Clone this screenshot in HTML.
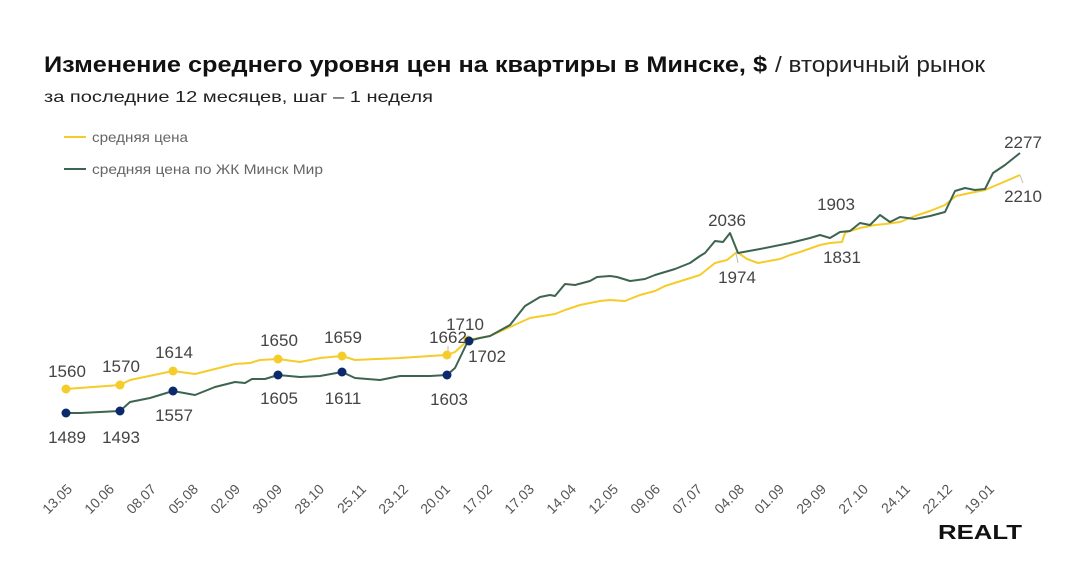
<!DOCTYPE html>
<html><head><meta charset="utf-8"><style>
body{margin:0;background:#fff;width:1080px;height:578px;overflow:hidden}
svg{font-family:"Liberation Sans","DejaVu Sans",sans-serif}
</style></head><body>
<svg width="1080" height="578" viewBox="0 0 1080 578">
<text x="44" y="72" font-size="22" font-weight="bold" fill="#111" textLength="723" lengthAdjust="spacingAndGlyphs">Изменение среднего уровня цен на квартиры в Минске, $</text>
<text x="775" y="72" font-size="22" fill="#222" textLength="210" lengthAdjust="spacingAndGlyphs">/ вторичный рынок</text>
<text x="44" y="102" font-size="16" fill="#222" textLength="389" lengthAdjust="spacingAndGlyphs">за последние 12 месяцев, шаг – 1 неделя</text>
<line x1="64" y1="137" x2="86" y2="137" stroke="#f5cc2a" stroke-width="2"/>
<text x="92" y="142" font-size="14" fill="#666" textLength="96" lengthAdjust="spacingAndGlyphs">средняя цена</text>
<line x1="64" y1="169" x2="86" y2="169" stroke="#3d6450" stroke-width="2"/>
<text x="92" y="174" font-size="14" fill="#666" textLength="231" lengthAdjust="spacingAndGlyphs">средняя цена по ЖК Минск Мир</text>
<g fill="none" stroke-width="2" stroke-linejoin="round">
<polyline stroke="#f5cc2a" points="66,389 120,385 130,380 173,371 195,374 215,369 235,364 250,363 260,360 278,359 300,362 320,358 342,356 355,360 400,358 430,356 447,355 455,352 468,340 490,336 510,327 530,318 555,314 565,310 580,305 600,301 610,300 625,301 640,295 655,291 665,286 700,275 715,263 727,260 737,252 747,259 758,263 780,259 790,255 800,252 820,245 830,243 842,242 845,233 850,231 860,228 875,225 885,224 900,222 915,216 930,211 945,205 956,196 970,193 985,190 1020,175"/>
<polyline stroke="#3d6450" points="66,413 80,413 120,411 130,402 150,398 173,391 195,395 215,387 235,382 245,383 252,379 265,379 278,375 300,377 320,376 342,372 355,378 380,380 400,376 430,376 447,375 455,368 468,341 480,338 490,336 510,325 525,306 540,297 550,295 555,296 565,284 575,285 590,281 597,277 610,276 617,277 630,281 645,279 655,275 665,272 675,269 690,263 700,256 705,253 715,241 723,242 730,233 738,253 760,249 790,243 810,238 820,235 830,238 840,232 850,231 860,223 870,225 880,215 890,222 900,217 915,219 930,216 945,212 955,191 965,188 975,190 985,189 993,173 1005,165 1020,153"/>
<line x1="736" y1="253" x2="738" y2="263" stroke="#bbb" stroke-width="1"/>
<line x1="1020" y1="175" x2="1023" y2="183" stroke="#bbb" stroke-width="1"/>
<line x1="448" y1="346" x2="448" y2="354" stroke="#bbb" stroke-width="1"/>
</g>
<g fill="#f5cc2a"><circle cx="66" cy="389" r="4.5"/><circle cx="120" cy="385" r="4.5"/><circle cx="173" cy="371" r="4.5"/><circle cx="278" cy="359" r="4.5"/><circle cx="342" cy="356" r="4.5"/><circle cx="447" cy="355" r="4.5"/><circle cx="468" cy="340" r="4.5"/></g>
<g fill="#0c2a6b"><circle cx="66" cy="413" r="4.5"/><circle cx="120" cy="411" r="4.5"/><circle cx="173" cy="391" r="4.5"/><circle cx="278" cy="375" r="4.5"/><circle cx="342" cy="372" r="4.5"/><circle cx="447" cy="375" r="4.5"/><circle cx="469" cy="341" r="4.5"/></g>
<g font-size="17" fill="#444" text-anchor="middle">
<text x="67" y="377">1560</text><text x="121" y="372">1570</text><text x="174" y="358">1614</text><text x="279" y="346">1650</text><text x="343" y="343">1659</text><text x="448" y="343">1662</text><text x="465" y="330">1710</text>
<text x="67" y="443">1489</text><text x="121" y="443">1493</text><text x="174" y="421">1557</text><text x="279" y="404">1605</text><text x="343" y="404">1611</text><text x="449" y="405">1603</text><text x="487" y="362">1702</text>
<text x="727" y="226">2036</text><text x="737" y="283">1974</text><text x="836" y="210">1903</text><text x="842" y="263">1831</text><text x="1023" y="148">2277</text><text x="1023" y="202">2210</text>
</g>
<g font-size="14" fill="#555" text-anchor="end">
<text transform="translate(73,490) rotate(-45)">13.05</text>
<text transform="translate(115,490) rotate(-45)">10.06</text>
<text transform="translate(157,490) rotate(-45)">08.07</text>
<text transform="translate(199,490) rotate(-45)">05.08</text>
<text transform="translate(241,490) rotate(-45)">02.09</text>
<text transform="translate(283,490) rotate(-45)">30.09</text>
<text transform="translate(325,490) rotate(-45)">28.10</text>
<text transform="translate(367,490) rotate(-45)">25.11</text>
<text transform="translate(409,490) rotate(-45)">23.12</text>
<text transform="translate(451,490) rotate(-45)">20.01</text>
<text transform="translate(493,490) rotate(-45)">17.02</text>
<text transform="translate(535,490) rotate(-45)">17.03</text>
<text transform="translate(577,490) rotate(-45)">14.04</text>
<text transform="translate(619,490) rotate(-45)">12.05</text>
<text transform="translate(661,490) rotate(-45)">09.06</text>
<text transform="translate(703,490) rotate(-45)">07.07</text>
<text transform="translate(745,490) rotate(-45)">04.08</text>
<text transform="translate(785,490) rotate(-45)">01.09</text>
<text transform="translate(827,490) rotate(-45)">29.09</text>
<text transform="translate(869,490) rotate(-45)">27.10</text>
<text transform="translate(911,490) rotate(-45)">24.11</text>
<text transform="translate(953,490) rotate(-45)">22.12</text>
<text transform="translate(995,490) rotate(-45)">19.01</text>
</g>
<text x="938" y="539" font-size="20" font-weight="bold" fill="#111" textLength="84" lengthAdjust="spacingAndGlyphs">REALT</text>
</svg>
</body></html>
